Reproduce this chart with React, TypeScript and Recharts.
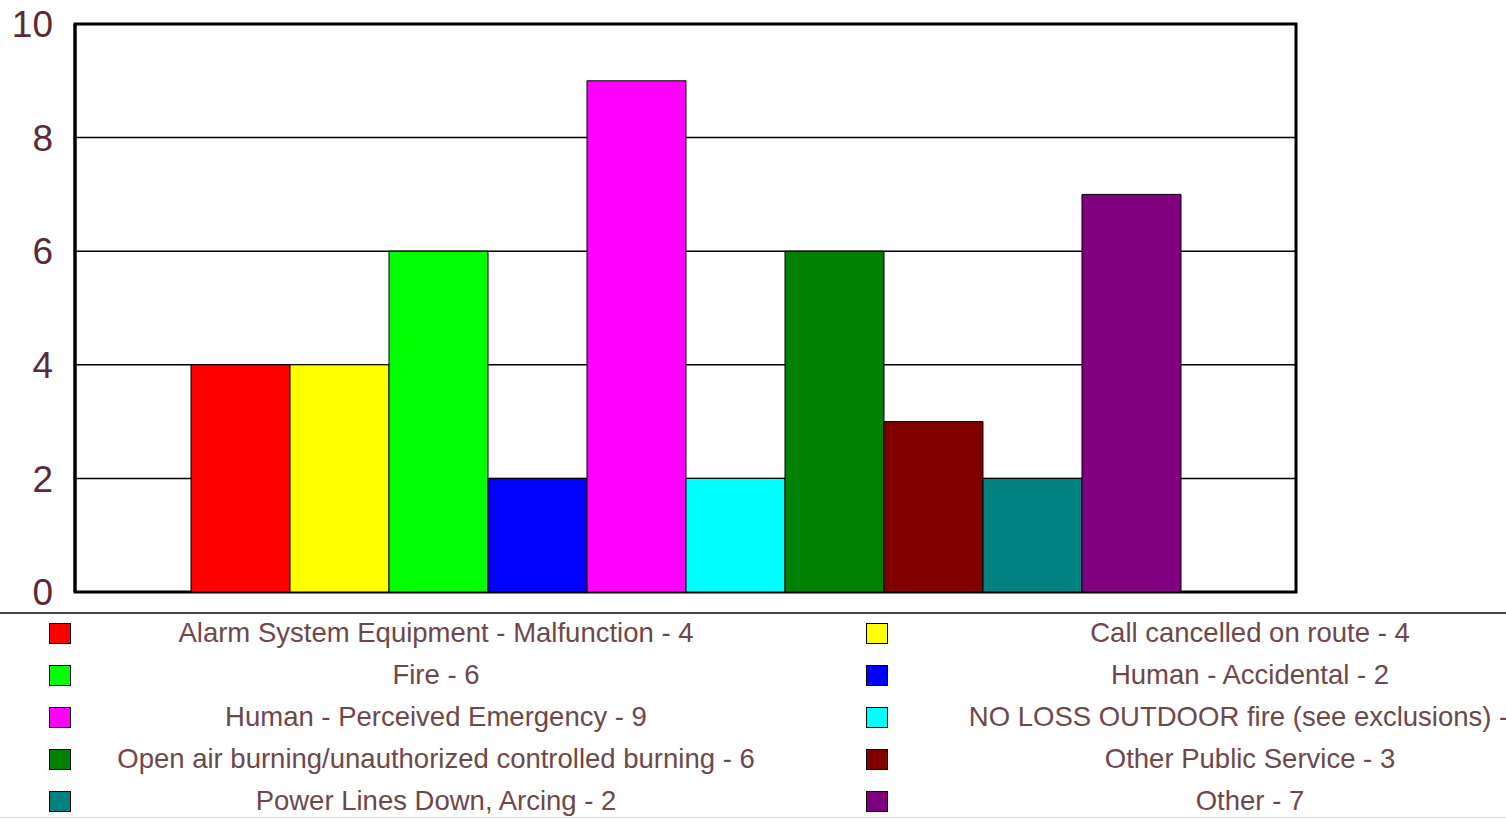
import React from "react";
import { BarChart, Bar, XAxis, YAxis, CartesianGrid, ReferenceArea } from "recharts";

// Incident types, counts and fill colours, in the order the bars are drawn
const causes = [
  "Alarm System Equipment - Malfunction",
  "Call cancelled on route",
  "Fire",
  "Human - Accidental",
  "Human - Perceived Emergency",
  "NO LOSS OUTDOOR fire (see exclusions)",
  "Open air burning/unauthorized controlled burning",
  "Other Public Service",
  "Power Lines Down, Arcing",
  "Other",
];
const counts = [4, 4, 6, 2, 9, 2, 6, 3, 2, 7];
const colors = [
  "#ff0000",
  "#ffff00",
  "#00ff00",
  "#0000ff",
  "#ff00ff",
  "#00ffff",
  "#008000",
  "#800000",
  "#008080",
  "#800080",
];
const yTicks = [0, 2, 4, 6, 8, 10];

// One category row with one key per cause
const row: Record<string, number | string> = { name: "all" };
causes.forEach((c, i) => {
  row[`s${i}`] = counts[i];
});
const data = [row];

const FONT = "'Liberation Sans', Arial, sans-serif";
const AXIS_COLOR = "#5a2a38";
const LEGEND_COLOR = "#6e4848";

function LegendGrid() {
  return (
    <div
      style={{
        position: "absolute",
        left: 0,
        top: 614,
        width: 1506,
        height: 206,
        overflow: "hidden",
        fontFamily: FONT,
        fontSize: 27.5,
        color: LEGEND_COLOR,
      }}
    >
      {causes.map((c, i) => {
        const col = i % 2;
        const r = Math.floor(i / 2);
        const cy = 19 + r * 42;
        const squareLeft = col === 0 ? 49 : 866;
        const textLeft = col === 0 ? 80 : 897;
        const textWidth = col === 0 ? 712 : 706;
        return (
          <React.Fragment key={c}>
            <div
              style={{
                position: "absolute",
                left: squareLeft,
                top: cy - 10,
                width: 20,
                height: 19,
                background: colors[i],
                border: "1px solid #000",
              }}
            />
            <div
              style={{
                position: "absolute",
                left: textLeft,
                top: cy - 17,
                width: textWidth,
                height: 34,
                lineHeight: "34px",
                textAlign: "center",
                whiteSpace: "nowrap",
              }}
            >
              {`${c} - ${counts[i]}`}
            </div>
          </React.Fragment>
        );
      })}
      <div
        style={{
          position: "absolute",
          left: 0,
          top: 203,
          width: 1506,
          height: 1,
          background: "#d8d8d8",
        }}
      />
    </div>
  );
}

export default function App() {
  return (
    <div style={{ position: "relative", width: 1506, height: 820, background: "#fff", overflow: "hidden" }}>
      <style>{"body{margin:0;background:#fff;}"}</style>
      <BarChart
        width={1506}
        height={612}
        data={data}
        margin={{ top: 24, right: 210, bottom: 20, left: 0 }}
        barCategoryGap="9.5%"
        barGap={0}
      >
        <CartesianGrid horizontal vertical={false} stroke="#000" strokeWidth={1.5} />
        <XAxis dataKey="name" tick={false} tickLine={false} height={0} axisLine={{ stroke: "#000", strokeWidth: 5 }} />
        <YAxis
          width={75}
          domain={[0, 10]}
          ticks={yTicks}
          interval={0}
          tickLine={false}
          tickSize={0}
          tickMargin={22}
          axisLine={{ stroke: "#000", strokeWidth: 3 }}
          tick={{ fill: AXIS_COLOR, fontSize: 37, fontFamily: FONT }}
        />
        {causes.map((c, i) => (
          <Bar
            key={c}
            dataKey={`s${i}`}
            name={c}
            fill={colors[i]}
            stroke="#000"
            strokeWidth={1}
            isAnimationActive={false}
          />
        ))}
        <ReferenceArea y1={0} y2={10} fill="none" stroke="#000" strokeWidth={3} ifOverflow="visible" />
      </BarChart>
      <div
        style={{
          position: "absolute",
          left: 0,
          top: 612,
          width: 1506,
          height: 2,
          background: "#444",
        }}
      />
      <LegendGrid />
    </div>
  );
}
